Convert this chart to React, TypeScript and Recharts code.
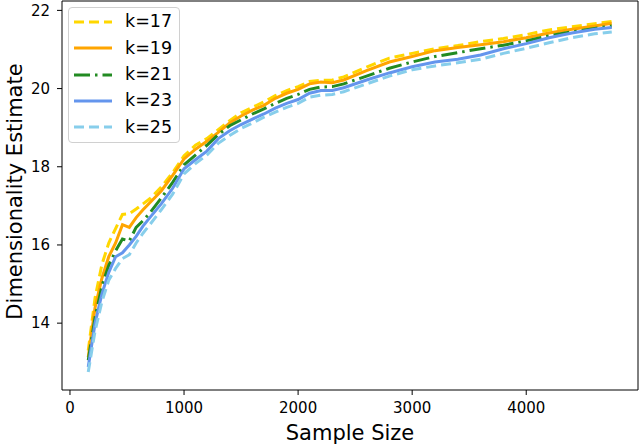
import { LineChart, Line, XAxis, YAxis, Legend } from 'recharts'

// sample sizes (x) shared by every curve
const sampleSizes = [
  160, 220, 280, 340, 400, 460, 520, 580, 640, 700, 800, 900, 1000, 1100, 1200, 1300,
  1400, 1500, 1600, 1700, 1800, 1900, 2000, 2100, 2200, 2300, 2400, 2600, 2800, 3000,
  3200, 3400, 3600, 3800, 4000, 4200, 4400, 4600, 4750,
]

const k17 = [
  13.30, 14.65, 15.50, 16.05, 16.42, 16.78, 16.80, 16.92, 17.05, 17.18, 17.48, 17.85, 18.28, 18.55, 18.72, 18.95,
  19.18, 19.38, 19.52, 19.66, 19.82, 19.95, 20.05, 20.18, 20.21, 20.22, 20.30, 20.55, 20.78, 20.90,
  21.02, 21.10, 21.20, 21.28, 21.38, 21.50, 21.58, 21.66, 21.72,
]
const k19 = [
  13.13, 14.40, 15.15, 15.70, 16.05, 16.52, 16.45, 16.70, 16.90, 17.08, 17.38, 17.78, 18.20, 18.45, 18.65, 18.88,
  19.12, 19.30, 19.45, 19.57, 19.75, 19.88, 19.98, 20.12, 20.17, 20.15, 20.22, 20.46, 20.68, 20.82,
  20.97, 21.05, 21.12, 21.20, 21.30, 21.42, 21.52, 21.60, 21.67,
]
const k21 = [
  13.05, 14.15, 14.95, 15.48, 15.85, 16.15, 16.10, 16.45, 16.62, 16.82, 17.20, 17.60, 18.05, 18.30, 18.55, 18.82,
  19.05, 19.20, 19.35, 19.48, 19.62, 19.75, 19.85, 19.98, 20.04, 20.05, 20.12, 20.32, 20.52, 20.68,
  20.82, 20.92, 21.02, 21.11, 21.22, 21.35, 21.45, 21.54, 21.60,
]
const k23 = [
  12.88, 14.00, 14.75, 15.30, 15.70, 15.80, 16.00, 16.22, 16.48, 16.70, 17.05, 17.45, 17.95, 18.18, 18.40, 18.72,
  18.92, 19.08, 19.22, 19.35, 19.50, 19.62, 19.72, 19.88, 19.95, 19.95, 20.02, 20.22, 20.40, 20.56,
  20.68, 20.75, 20.86, 21.02, 21.15, 21.30, 21.42, 21.52, 21.56,
]
const k25 = [
  12.75, 13.80, 14.55, 15.10, 15.40, 15.65, 15.75, 16.05, 16.30, 16.52, 16.90, 17.30, 17.82, 18.08, 18.30, 18.60,
  18.80, 18.98, 19.12, 19.27, 19.40, 19.52, 19.62, 19.78, 19.83, 19.85, 19.92, 20.12, 20.32, 20.48,
  20.58, 20.66, 20.75, 20.90, 21.03, 21.17, 21.30, 21.40, 21.45,
]

const xTicks = [0, 1000, 2000, 3000, 4000]
const yTicks = [14, 16, 18, 20, 22]

const series = [
  { key: 'k17', name: 'k=17', values: k17, color: '#FFD700', dash: '10 5' },
  { key: 'k19', name: 'k=19', values: k19, color: '#FFA500', dash: undefined },
  { key: 'k21', name: 'k=21', values: k21, color: '#228B22', dash: '16 5 2.5 5' },
  { key: 'k23', name: 'k=23', values: k23, color: '#6495ED', dash: undefined },
  { key: 'k25', name: 'k=25', values: k25, color: '#87CEEB', dash: '10 5' },
]

const data = sampleSizes.map((x, i) => {
  const row: Record<string, number> = { x }
  series.forEach(s => { row[s.key] = s.values[i] })
  return row
})

const FONT = '"DejaVu Sans", sans-serif'
const tickStyle = { fill: '#000', fontSize: 15, fontFamily: FONT }

function LegendBox() {
  return (
    <div
      style={{
        width: 112, height: 136, boxSizing: 'border-box', paddingTop: 1,
        border: '1px solid #d0d0d0', borderRadius: 4, background: 'rgba(255,255,255,0.8)',
        fontFamily: FONT,
      }}
    >
      {series.map(s => (
        <div key={s.key} style={{ display: 'flex', alignItems: 'center', height: 26.3 }}>
          <svg width={38} height={6} style={{ marginLeft: 5, display: 'block' }}>
            <line x1={0} y1={3} x2={38} y2={3} stroke={s.color} strokeWidth={3} strokeDasharray={s.dash} />
          </svg>
          <span style={{ marginLeft: 13, fontSize: 17.5, lineHeight: 1, color: '#000' }}>{s.name}</span>
        </div>
      ))}
    </div>
  )
}

export default function App() {
  return (
    <div style={{ position: 'absolute', left: 0, top: 0, width: 640, height: 448, background: '#fff' }}>
      <LineChart width={640} height={448} data={data} margin={{ top: 0, right: 1, bottom: 0, left: 0 }}>
        <XAxis
          dataKey="x" type="number" domain={[-70, 4980]} ticks={xTicks} allowDataOverflow
          height={58} tickSize={5} tickMargin={7}
          stroke="#000" tick={tickStyle}
          label={{
            content: (p: any) => (
              <text
                x={p.viewBox.x + p.viewBox.width / 2} y={p.viewBox.y + 50}
                textAnchor="middle" fontSize={21} fontFamily={FONT} fill="#000"
              >
                Sample Size
              </text>
            ),
          }}
        />
        <XAxis xAxisId="top" dataKey="x" type="number" domain={[-70, 4980]} orientation="top"
          height={1} tick={false} tickLine={false} stroke="#000" allowDataOverflow />
        <YAxis
          type="number" domain={[12.29, 22.24]} ticks={yTicks} allowDataOverflow
          width={62} tickSize={5} tickMargin={7}
          stroke="#000" tick={tickStyle}
          label={{
            content: (p: any) => {
              const cx = p.viewBox.x + 15
              const cy = p.viewBox.y + p.viewBox.height / 2 - 4
              return (
                <text
                  x={cx} y={cy} transform={`rotate(-90 ${cx} ${cy})`}
                  textAnchor="middle" dominantBaseline="central"
                  fontSize={21} fontFamily={FONT} fill="#000"
                >
                  Dimensionality Estimate
                </text>
              )
            },
          }}
        />
        <YAxis yAxisId="right" type="number" domain={[12.29, 22.24]} orientation="right"
          width={1} tick={false} tickLine={false} stroke="#000" allowDataOverflow />
        {series.map(s => (
          <Line
            key={s.key} dataKey={s.key} name={s.name} type="linear"
            stroke={s.color} strokeWidth={3} strokeDasharray={s.dash}
            dot={false} activeDot={false} isAnimationActive={false}
          />
        ))}
        <Legend
          layout="vertical" align="center" verticalAlign="middle"
          wrapperStyle={{ left: 68, top: 7, width: 112, height: 136 }}
          content={() => <LegendBox />}
        />
      </LineChart>
    </div>
  )
}
